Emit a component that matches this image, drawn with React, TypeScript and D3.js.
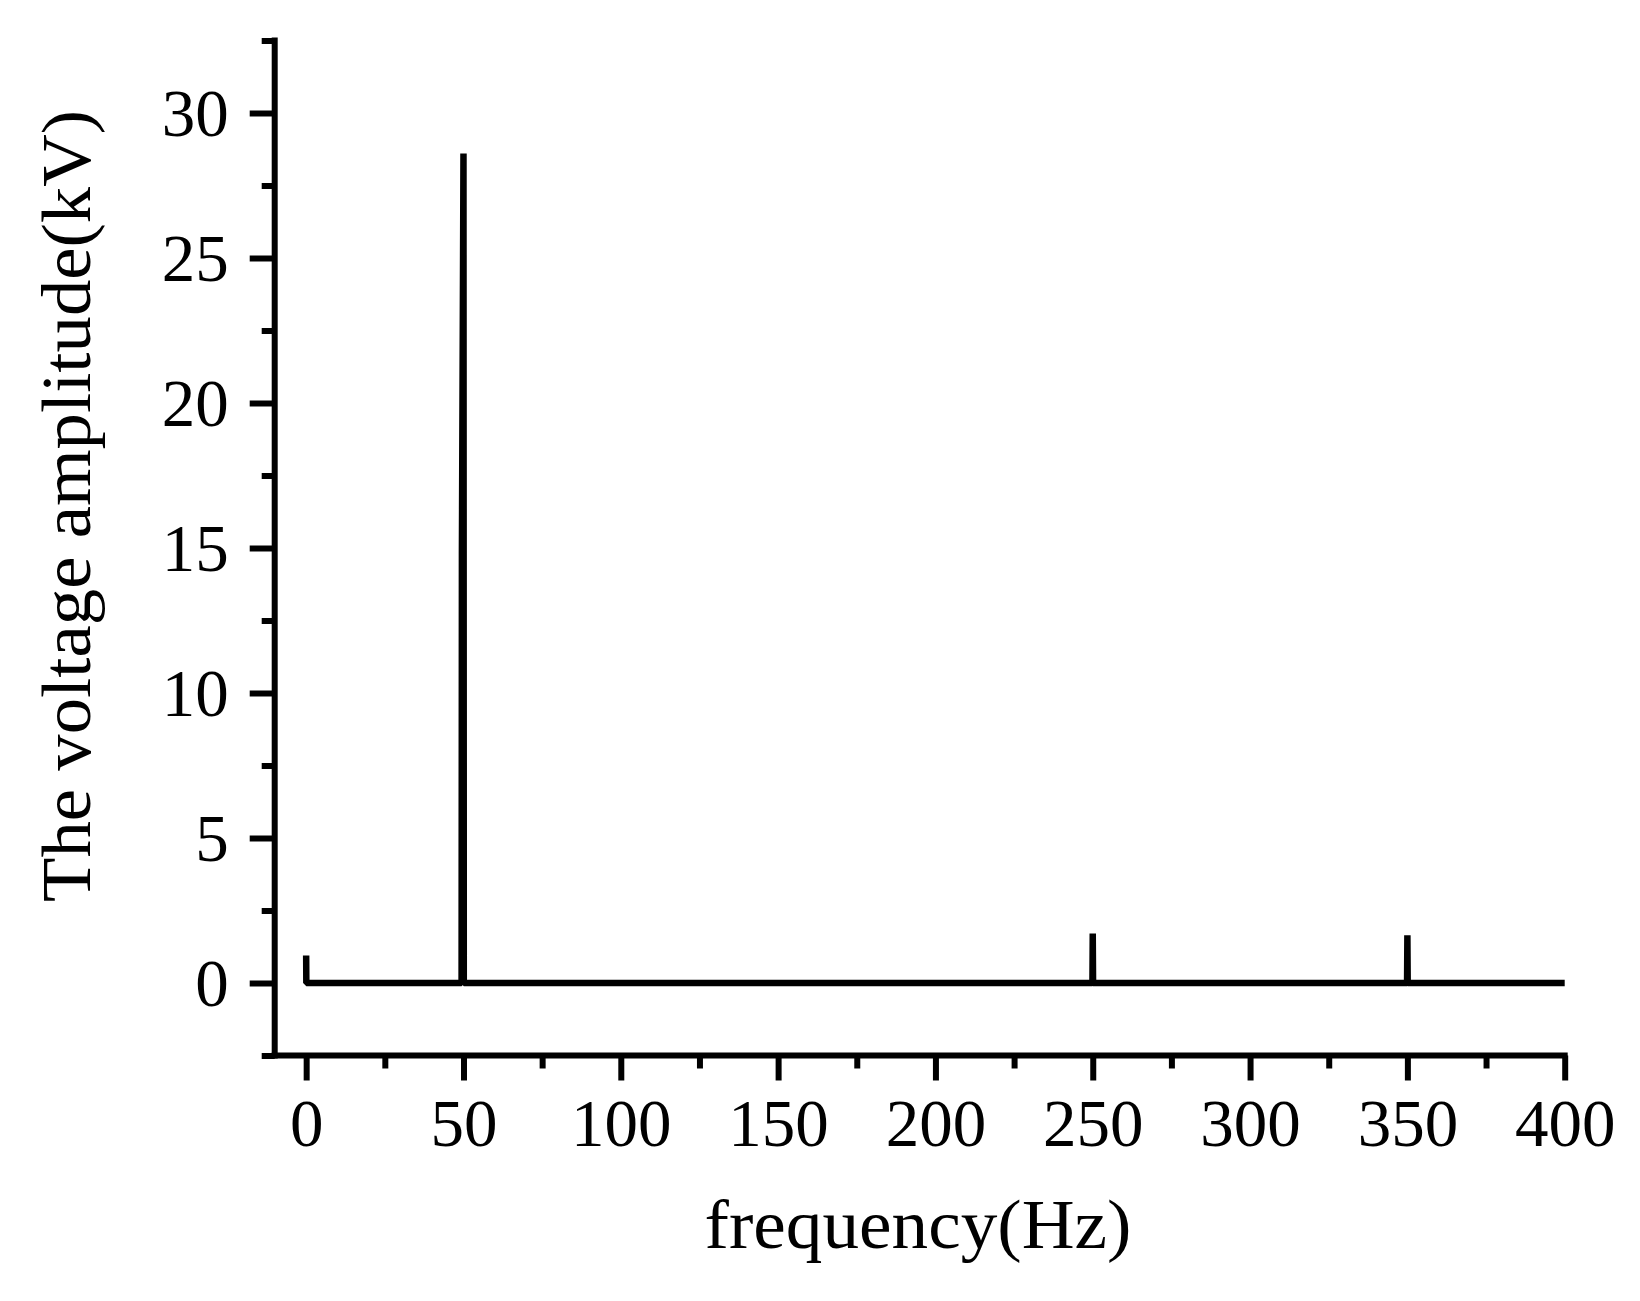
import * as d3 from "d3";
import { useEffect, useRef } from "react";

// spectrum points (Hz, kV)
const freqs = [0, 0.05, 49.4, 49.5, 50, 50.1, 249.9, 250, 250.1, 349.9, 350, 350.1, 400];
const amps = [0.95, 0, 0, 14.8, 28.6, 0, 0, 1.71, 0, 0, 1.65, 0, 0];

const xMajor = [0, 50, 100, 150, 200, 250, 300, 350, 400];
const xMinor = [25, 75, 125, 175, 225, 275, 325, 375];
const yMajor = [0, 5, 10, 15, 20, 25, 30];
const yMinor = [-2.5, 2.5, 7.5, 12.5, 17.5, 22.5, 27.5, 32.5];

const xTitle = "frequency(Hz)";
const yTitle = "The voltage amplitude(kV)";

export default function App() {
  const ref = useRef<SVGSVGElement>(null);

  useEffect(() => {
    const svg = d3.select(ref.current);
    svg.selectAll("*").remove();

    const width = 1640;
    const height = 1301;
    const font = "'Liberation Serif', 'Times New Roman', serif";
    const axisW = 6;

    svg.attr("width", width).attr("height", height);

    const x = d3.scaleLinear().domain([-10, 400]).range([274.7, 1564.7]);
    const y = d3.scaleLinear().domain([-2.5, 32.5]).range([1055.5, 40.5]);

    const x0 = x.range()[0];
    const y0 = y.range()[0];

    // ticks
    const xAxisMajor = svg.append("g")
      .attr("transform", `translate(0,${y0})`)
      .call(d3.axisBottom(x).tickValues(xMajor).tickSize(25).tickSizeOuter(0).tickFormat(d3.format("d")));
    const xAxisMinor = svg.append("g")
      .attr("transform", `translate(0,${y0})`)
      .call(d3.axisBottom(x).tickValues(xMinor).tickSize(13).tickSizeOuter(0).tickFormat(() => ""));
    const yAxisMajor = svg.append("g")
      .attr("transform", `translate(${x0},0)`)
      .call(d3.axisLeft(y).tickValues(yMajor).tickSize(25).tickSizeOuter(0).tickFormat(d3.format("d")));
    const yAxisMinor = svg.append("g")
      .attr("transform", `translate(${x0},0)`)
      .call(d3.axisLeft(y).tickValues(yMinor).tickSize(13).tickSizeOuter(0).tickFormat(() => ""));

    [xAxisMajor, xAxisMinor, yAxisMajor, yAxisMinor].forEach(a => {
      a.select(".domain").remove();
      a.selectAll("line").attr("stroke", "#000").attr("stroke-width", axisW);
    });

    xAxisMajor.selectAll("text")
      .attr("y", 0)
      .attr("dy", 0)
      .attr("transform", "translate(0,90)")
      .style("font-family", font)
      .style("font-size", "67px")
      .attr("fill", "#000");

    yAxisMajor.selectAll("text")
      .attr("x", -46)
      .attr("dy", 0)
      .attr("transform", "translate(0,22)")
      .style("font-family", font)
      .style("font-size", "67px")
      .attr("fill", "#000");

    // axis lines
    svg.append("line")
      .attr("x1", x0).attr("x2", x.range()[1])
      .attr("y1", y0).attr("y2", y0)
      .attr("stroke", "#000").attr("stroke-width", axisW).attr("stroke-linecap", "square");
    svg.append("line")
      .attr("x1", x0).attr("x2", x0)
      .attr("y1", y0).attr("y2", y.range()[1])
      .attr("stroke", "#000").attr("stroke-width", axisW).attr("stroke-linecap", "square");

    // spectrum
    const line = d3.line<number>()
      .x((d, i) => x(freqs[i]))
      .y(d => y(d));

    svg.append("path")
      .datum(amps)
      .attr("d", line)
      .attr("fill", "none")
      .attr("stroke", "#000")
      .attr("stroke-width", 6.5)
      .attr("stroke-linejoin", "bevel");

    // titles
    svg.append("text")
      .attr("x", 918)
      .attr("y", 1248)
      .attr("text-anchor", "middle")
      .attr("textLength", 427)
      .attr("lengthAdjust", "spacingAndGlyphs")
      .style("font-family", font)
      .style("font-size", "70px")
      .text(xTitle);

    svg.append("text")
      .attr("transform", "translate(90,506) rotate(-90)")
      .attr("text-anchor", "middle")
      .attr("textLength", 792)
      .attr("lengthAdjust", "spacingAndGlyphs")
      .style("font-family", font)
      .style("font-size", "70px")
      .text(yTitle);
  }, []);

  return (
    <svg
      ref={ref}
      style={{ position: "absolute", left: 0, top: 0, background: "#fff" }}
    ></svg>
  );
}
